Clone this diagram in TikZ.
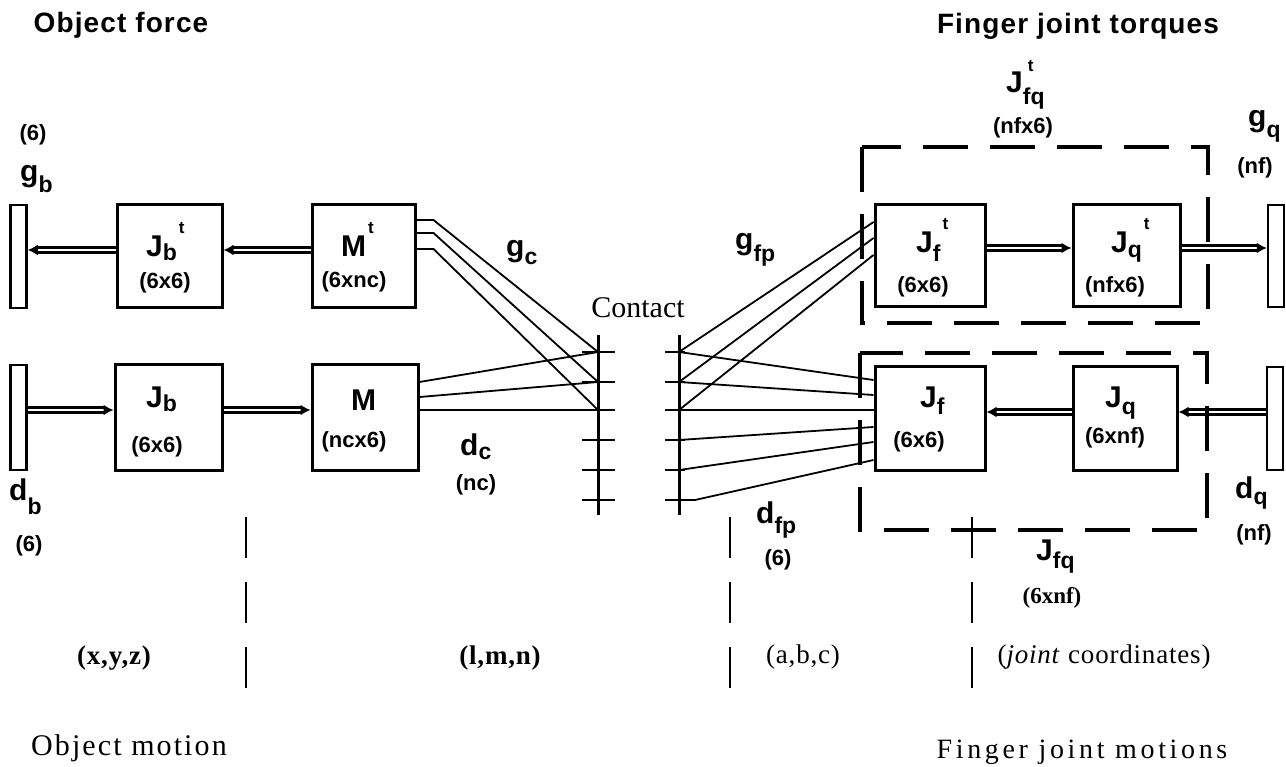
\documentclass[tikz,border=0pt]{standalone}
\usepackage{fontspec}
\setmainfont{Liberation Serif}
\setsansfont{Liberation Sans}
\newfontfamily\hdrfont[LetterSpace=4]{Liberation Sans}
\newfontfamily\serifwide[LetterSpace=3]{Liberation Serif}
\newfontfamily\serifobj[LetterSpace=7]{Liberation Serif}
\newfontfamily\serifwider[LetterSpace=13]{Liberation Serif}
\usetikzlibrary{arrows.meta}
\newcommand{\Lb}[4][7]{{\fontsize{30}{30}\selectfont #2}\raisebox{-#1pt}{\fontsize{23}{23}\selectfont #3}\if\relax\detokenize{#4}\relax\else\raisebox{23pt}{\fontsize{17}{17}\selectfont\kern2pt #4}\fi}
\begin{document}
\begin{tikzpicture}[x=1pt,y=-1pt,
  box/.style={draw, line width=3pt, inner sep=0pt},
  bar/.style={draw, line width=2.5pt, inner sep=0pt, minimum width=16pt},
  dbl/.style={double=white, double distance=1.8pt, line width=2.8pt, -{Latex[length=10pt,width=11pt]}},
  wire/.style={line width=1.8pt},
  tick/.style={line width=2.5pt},
  cline/.style={line width=3pt},
  dbox/.style={line width=3.5pt, dash pattern=on 45pt off 22pt},
  sep/.style={line width=2.5pt, dash pattern=on 41pt off 24pt},
  lab/.style={anchor=base west, inner sep=0pt, font=\sffamily\bfseries},
  dimt/.style={inner sep=0pt, font=\sffamily\bfseries\fontsize{22}{22}\selectfont},
  hdr/.style={inner sep=0pt, font=\hdrfont\bfseries\fontsize{28}{30}\selectfont},
  ser/.style={inner sep=0pt, font=\serifwide\fontsize{27}{30}\selectfont},
  serb/.style={inner sep=0pt, font=\serifwide\bfseries\fontsize{27}{30}\selectfont},
]
\useasboundingbox (0,0) rectangle (1286,767);

% headers
\node[hdr] (h1) at (121,25) {Object force};
\node[hdr] (h2) at (1078,26) {Finger joint torques};

% boxes
\node[box, minimum width=105pt, minimum height=103pt] (Jbt) at (169.5,256.5) {};
\node[box, minimum width=103pt, minimum height=103pt] (Mt) at (363.5,256.5) {};
\node[box, minimum width=107pt, minimum height=105pt] (Jb) at (168.5,417.5) {};
\node[box, minimum width=106pt, minimum height=105pt] (M) at (365,417.5) {};
\node[box, minimum width=110pt, minimum height=102pt] (Jft) at (930,256) {};
\node[box, minimum width=107pt, minimum height=102pt] (Jqt) at (1126.5,256) {};
\node[box, minimum width=110pt, minimum height=103pt] (Jf) at (930,418.5) {};
\node[box, minimum width=104pt, minimum height=103pt] (Jq) at (1125,418.5) {};

% bars
\node[bar, minimum height=103pt] (gb) at (18.5,256.5) {};
\node[bar, minimum height=105pt] (db) at (18.5,417.5) {};
\node[bar, minimum height=102pt] (gq) at (1276,256) {};
\node[bar, minimum height=103pt] (dq) at (1275,418.5) {};

% double arrows
\draw[dbl] ([yshift=6.5pt]Jbt.west) -- ([yshift=6.5pt]gb.east);
\draw[dbl] ([yshift=6.5pt]Mt.west) -- ([yshift=6.5pt]Jbt.east);
\draw[dbl] ([yshift=7.5pt]db.east) -- ([yshift=7.5pt]Jb.west);
\draw[dbl] ([yshift=7.5pt]Jb.east) -- ([yshift=7.5pt]M.west);
\draw[dbl] ([yshift=8pt]Jft.east) -- ([yshift=8pt]Jqt.west);
\draw[dbl] ([yshift=8pt]Jqt.east) -- ([yshift=8pt]gq.west);
\draw[dbl] ([yshift=6.5pt]dq.west) -- ([yshift=6.5pt]Jq.east);
\draw[dbl] ([yshift=6.5pt]Jq.west) -- ([yshift=6.5pt]Jf.east);

% contact
\coordinate (clt) at (598,335); \coordinate (clb) at (598,515);
\coordinate (crt) at (679,335); \coordinate (crb) at (679,515);
\foreach \i/\y in {1/352,2/382,3/410,4/440,5/470,6/500} {
  \coordinate (cl\i) at (598,\y);
  \coordinate (cr\i) at (679,\y);
  \draw[tick] (582,\y) -- (615,\y);
  \draw[tick] (665,\y) -- (685,\y);
}
\draw[cline] (clt) -- (clb);
\draw[cline] (crt) -- (crb);
\node[inner sep=0pt, font=\fontsize{30}{32}\selectfont] (contact) at (638,308) {Contact};

% g_c wires
\draw[wire] ([yshift=36.5pt]Mt.east) -- ++(17,0) -- (cl1);
\draw[wire] ([yshift=23.5pt]Mt.east) -- ++(17,0) -- (cl2);
\draw[wire] ([yshift=7.5pt]Mt.east) -- ++(17,0) -- (cl3);
% d_c wires
\draw[wire] ([yshift=35.5pt]M.east) -- (cl1);
\draw[wire] ([yshift=20.5pt]M.east) -- (cl2);
\draw[wire] ([yshift=7.5pt]M.east) -- (cl3);
% g_fp wires
\draw[wire] (cr1) -- ([yshift=34pt]Jft.west);
\draw[wire] (cr2) -- ([yshift=18pt]Jft.west);
\draw[wire] (cr3) -- ([yshift=1pt]Jft.west);
% d_fp wires
\draw[wire] (cr1) -- ([yshift=38.5pt]Jf.west);
\draw[wire] (cr2) -- ([yshift=23.5pt]Jf.west);
\draw[wire] (cr3) -- ([yshift=8.5pt]Jf.west);
\draw[wire] (cr4) -- ([yshift=-8.5pt]Jf.west);
\draw[wire] (cr5) -- ([yshift=-23.5pt]Jf.west);
\draw[wire] (cr6) -- ++(16,0) -- ([yshift=-41.5pt]Jf.west);

% dashed groups
\draw[dbox] (862,147) rectangle (1208,323);
\draw[dbox] (860,353) rectangle (1207,530);

% separators
\draw[sep] (246,517) -- (246,688);
\draw[sep] (730,517) -- (730,688);
\draw[sep] (972,517) -- (972,688);

% labels left
\node[dimt] (n6a) at (33,135) {(6)};
\node[lab] (lgb) at (20,182) {\Lb[11]{g}{b}{}};
\node[lab] (lJbt) at (146,257) {\Lb[4]{J}{b}{t}};
\node[dimt] (dJbt) at (165,283) {(6x6)};
\node[lab] (lMt) at (341,257) {\Lb{M}{}{t}};
\node[dimt] (dMt) at (354,282) {(6xnc)};
\node[lab] (lJb) at (146,408) {\Lb[4]{J}{b}{}};
\node[dimt] (dJb) at (157,447) {(6x6)};
\node[lab] (lM) at (351,410) {\Lb{M}{}{}};
\node[dimt] (dM) at (354,442) {(ncx6)};
\node[lab] (ldb) at (9,500) {\Lb[14]{d}{b}{}};
\node[dimt] (n6b) at (29,546) {(6)};
\node[lab] (lgc) at (506,257) {\Lb[8]{g}{c}{}};
\node[lab] (ldc) at (460,455) {\Lb[4]{d}{c}{}};
\node[dimt] (nnc) at (476,485) {(nc)};

% labels right
\node[lab] (lgfp) at (735,250) {\Lb[12]{g}{fp}{}};
\node[lab] (ldfp) at (756,523) {\Lb[10]{d}{fp}{}};
\node[dimt] (n6c) at (778,560) {(6)};
\node[lab] (lJfqt) at (1006,93) {{\fontsize{30}{30}\selectfont J}\rlap{\raisebox{21pt}{\fontsize{17}{17}\selectfont\kern5pt t}}\raisebox{-12pt}{\fontsize{23}{23}\selectfont fq}};
\node[dimt] (dJfqt) at (1023,128) {(nfx6)};
\node[lab] (lgq) at (1248,127) {\Lb[11]{g}{q}{}};
\node[dimt] (ngq) at (1255,168) {(nf)};
\node[lab] (lJft) at (916,253) {\Lb[9]{J}{f}{t}};
\node[dimt] (dJft) at (923,287) {(6x6)};
\node[lab] (lJqt) at (1111,253) {\Lb[5]{J}{q}{t}};
\node[dimt] (dJqt) at (1115,287) {(nfx6)};
\node[lab] (lJf) at (920,407) {\Lb[8]{J}{f}{}};
\node[dimt] (dJf) at (919,442) {(6x6)};
\node[lab] (lJq) at (1105,407) {\Lb[7]{J}{q}{}};
\node[dimt] (dJq) at (1115,438) {(6xnf)};
\node[lab] (ldq) at (1235,498) {\Lb[6]{d}{q}{}};
\node[dimt] (ndq) at (1254,535) {(nf)};
\node[lab] (lJfq) at (1036,560) {\Lb[8]{J}{fq}{}};
\node[inner sep=0pt, font=\bfseries\fontsize{23}{25}\selectfont] (dJfq) at (1052,598) {(6xnf)};

% bottom
\node[serb] (b1) at (114,658) {(x,y,z)};
\node[serb] (b2) at (500,658) {(l,m,n)};
\node[ser] (b3) at (803,657) {(a,b,c)};
\node[ser] (b4) at (1104,657) {(\textit{joint} coordinates)};
\node[inner sep=0pt, font=\serifobj\fontsize{30}{32}\selectfont] (b5) at (129,748) {Object motion};
\node[inner sep=0pt, font=\serifwider\fontsize{28}{30}\selectfont] (b6) at (1082,752) {Finger joint motions};
\end{tikzpicture}
\end{document}
